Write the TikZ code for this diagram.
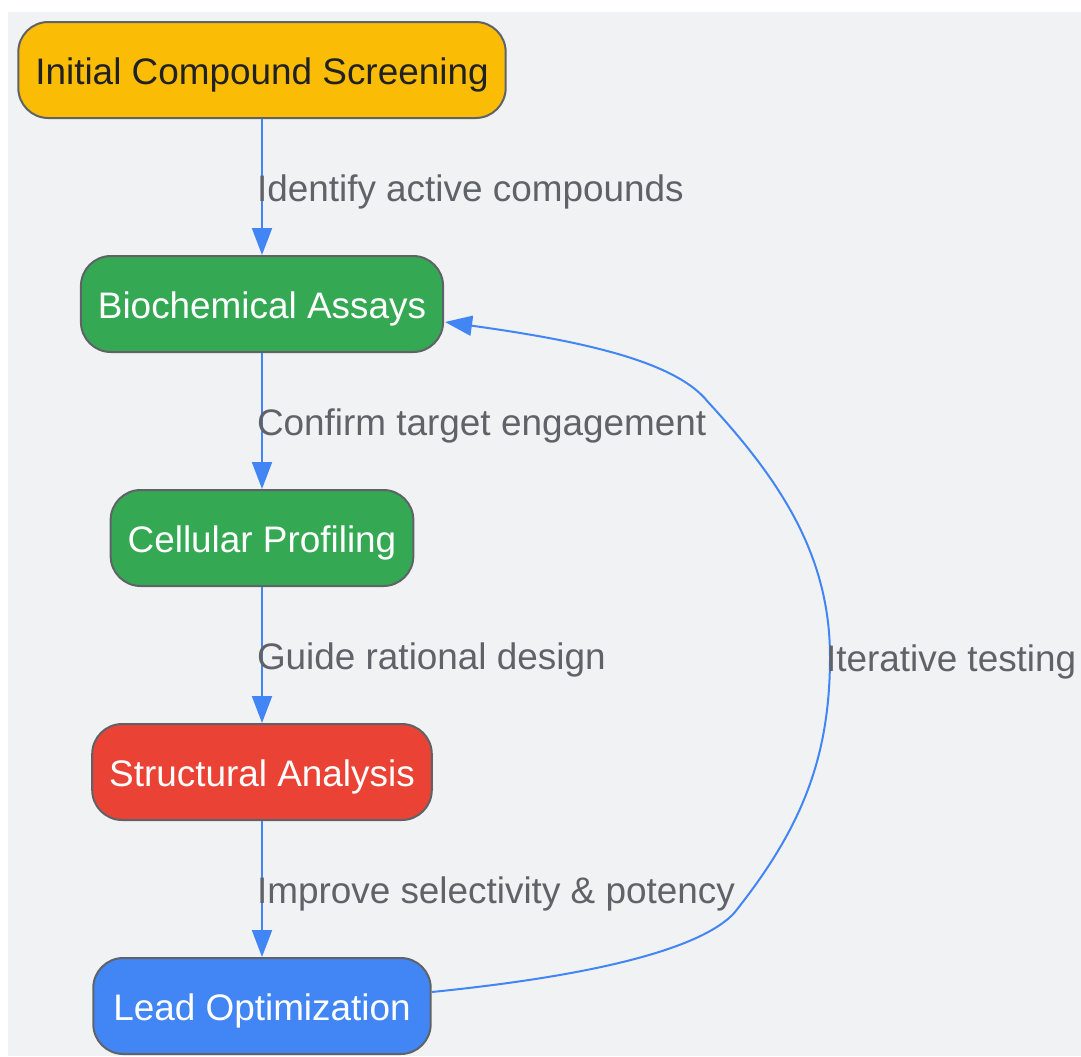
\documentclass[tikz,border=0pt]{standalone}
\usepackage{fontspec}
\setmainfont{Liberation Sans}
\usepackage{xcolor}
\usetikzlibrary{arrows.meta, positioning, calc}

\definecolor{bgpanel}{HTML}{F1F2F4}
\definecolor{edgeblue}{HTML}{4285F4}
\definecolor{boxline}{HTML}{5F6368}
\definecolor{labelgray}{HTML}{5F6368}
\definecolor{darktext}{HTML}{202124}
\definecolor{gyellow}{HTML}{FBBC05}
\definecolor{ggreen}{HTML}{34A853}
\definecolor{gred}{HTML}{EA4335}
\definecolor{gblue}{HTML}{4285F4}

\begin{document}
\begin{tikzpicture}[auto, node distance=4.68cm, >={Triangle[length=0.54cm,width=0.4cm]}]

		% Define block styles
		\tikzstyle{stage} = [rectangle, rounded corners=0.6cm, draw=boxline, line width=0.04cm, minimum height=1.92cm, inner xsep=0.34cm, text height=16.8pt, text depth=0pt, text=white, font=\fontsize{21}{25}\selectfont, text centered]
		\tikzstyle{flow} = [->, draw=edgeblue, line width=0.04cm]
		\tikzstyle{lbl} = [anchor=west, xshift=-0.12cm, inner sep=0pt, text height=16.8pt, text depth=0pt, text=labelgray, font=\fontsize{21}{25}\selectfont]

		% Canvas
		\useasboundingbox (0,0) rectangle (21.62,-21.12);
		\fill[bgpanel] (0.16,-0.24) rectangle (21.62,-21.12);

		% Nodes
		\node[stage, fill=gyellow, text=darktext] (screen) at (5.24,-1.40) {Initial Compound Screening};
		\node[stage, fill=ggreen, below of=screen] (assay) {Biochemical Assays};
		\node[stage, fill=ggreen, below of=assay] (cell) {Cellular Profiling};
		\node[stage, fill=gred, below of=cell] (struct) {Structural Analysis};
		\node[stage, fill=gblue, below of=struct, inner xsep=0.4cm] (lead) {Lead Optimization};

		% Arrows
		\draw[flow] (screen) -- node[lbl] {Identify active compounds} (assay);
		\draw[flow] (assay) -- node[lbl] {Confirm target engagement} (cell);
		\draw[flow] (cell) -- node[lbl] {Guide rational design} (struct);
		\draw[flow] (struct) -- node[lbl] {Improve selectivity \& potency} (lead);

		% Feedback loop
		\coordinate (loopstart) at ($(lead.east)+(0,0.28)$);
		\coordinate (loopend) at ($(assay.east)+(0.02,-0.36)$);
		\draw[flow] (loopstart)
			.. controls (13.0,-19.4) and (14.3,-18.7) .. (14.70,-18.24)
			.. controls (16.0,-16.6) and (16.6,-15.2) .. (16.6,-13.14)
			node[lbl, xshift=0.02cm] {Iterative testing}
			.. controls (16.6,-11.1) and (15.6,-9.6) .. (14.16,-8.04)
			.. controls (13.5,-7.2) and (11.5,-6.8) .. (loopend);

	\end{tikzpicture}
\end{document}
